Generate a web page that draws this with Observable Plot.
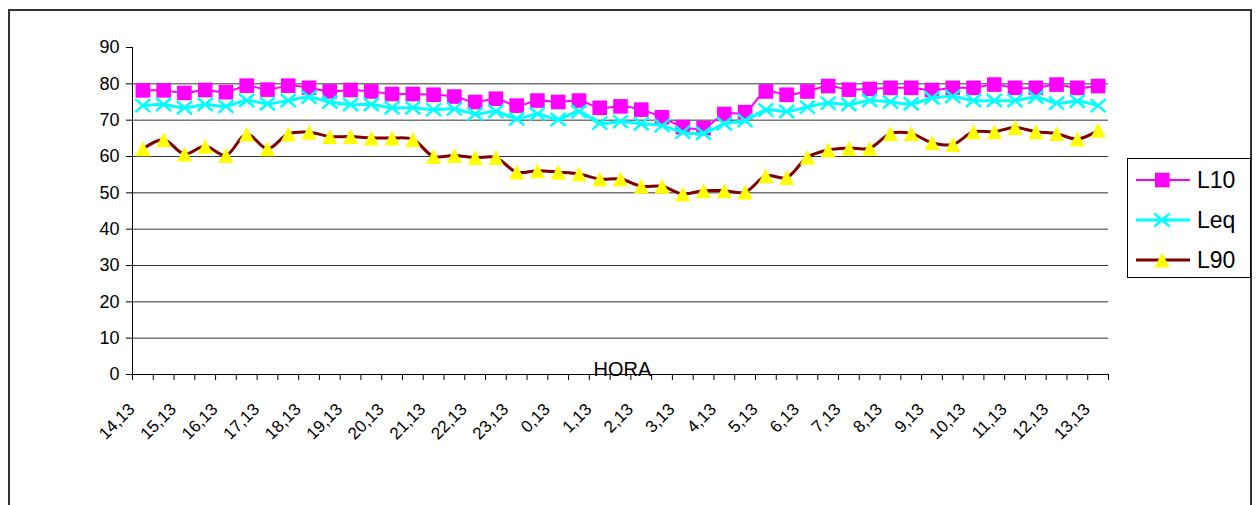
<!DOCTYPE html>
<html>
<head>
<meta charset="utf-8">
<script src="https://cdn.jsdelivr.net/npm/d3@7"></script>
<script src="https://cdn.jsdelivr.net/npm/@observablehq/plot@0.6"></script>
<style>
  html, body { margin: 0; padding: 0; background: #fff; overflow: hidden; }
  #wrap { position: relative; width: 1258px; height: 505px; overflow: hidden; font-family: "Liberation Sans", Arial, sans-serif; }
  #border { position: absolute; left: 8px; top: 9px; width: 1244px; height: 600px; border: 2px solid #333; box-sizing: border-box; }
  #chart { position: absolute; left: 0; top: 0; }
  #legend { position: absolute; left: 1127px; top: 158px; width: 124px; height: 120px; border: 1px solid #000; background: #fff; box-sizing: border-box; }
  .row { position: absolute; left: 0; height: 40px; display: flex; align-items: center; }
  .row svg { display: block; }
  .row span { font-size: 23px; color: #000; margin-left: 5px; }
</style>
</head>
<body>
<div id="wrap">
  <div id="border"></div>
  <div id="chart"></div>
  <div id="legend"></div>
</div>
<script>
// Hour labels (every other half-hour category)
const tickLabels = ["14,13","15,13","16,13","17,13","18,13","19,13","20,13","21,13","22,13","23,13","0,13","1,13",
  "2,13","3,13","4,13","5,13","6,13","7,13","8,13","9,13","10,13","11,13","12,13","13,13"];

const L10 = [78.2,78.2,77.5,78.3,77.7,79.5,78.4,79.5,78.9,77.9,78.3,77.9,77.2,77.2,77.0,76.5,75.0,75.9,74.0,75.4,
  75.0,75.4,73.4,73.8,72.9,70.8,68.1,67.8,71.7,72.2,77.9,77.0,77.9,79.4,78.4,78.6,78.9,78.9,78.3,78.9,
  78.9,79.8,78.9,78.9,79.8,78.9,79.4];
const Leq = [74.0,74.3,73.4,74.3,73.8,75.4,74.5,75.4,76.3,75.0,74.3,74.3,73.4,73.4,72.9,73.1,71.7,72.4,70.4,71.7,
  70.2,72.4,69.2,69.6,69.0,68.5,66.7,66.4,69.0,69.9,72.8,72.4,73.6,74.7,74.3,75.4,75.0,74.5,76.1,76.5,
  75.4,75.4,75.4,76.3,74.7,75.2,74.0];
const L90 = [62.1,64.6,60.7,62.8,60.3,66.2,62.1,66.2,66.7,65.5,65.5,65.1,65.1,64.7,60.0,60.3,59.7,59.7,55.7,56.1,
  55.7,55.2,53.8,53.8,51.8,51.8,49.7,50.6,50.6,50.2,54.7,54.2,59.8,61.8,62.3,62.3,66.3,66.3,63.8,63.3,
  66.8,66.8,68.0,66.8,66.3,64.8,67.2];

const yTicks = [0,10,20,30,40,50,60,70,80,90];
const gridValues = [10,20,30,40,50,60,70,80];
const seriesNames = ["L10","Leq","L90"];
const axisTitle = "HORA";

const rows = L10.map((v, i) => ({i, L10: v, Leq: Leq[i], L90: L90[i]}));
const xDomain = [-0.5, L10.length - 0.5];
const boundaries = d3.range(L10.length + 1).map(k => k - 0.5);
const labelIdx = tickLabels.map((_, k) => k * 2);

const colors = {L10: "#FF00FF", Leq: "#00FFFF", L90: "#800000", tri: "#FFFF00"};

const squareSym = {draw(ctx) { const h = 7.3; ctx.moveTo(-h,-h); ctx.lineTo(h,-h); ctx.lineTo(h,h); ctx.lineTo(-h,h); ctx.closePath(); }};
const timesSym = {draw(ctx) { const w = 7.5, h = 6.5; ctx.moveTo(-w,-h); ctx.lineTo(w,h); ctx.moveTo(-w,h); ctx.lineTo(w,-h); }};
const triSym = {draw(ctx) { const w = 7.5, h = 7.5; ctx.moveTo(0,-h); ctx.lineTo(w,h); ctx.lineTo(-w,h); ctx.closePath(); }};

const chart = Plot.plot({
  width: 1258,
  height: 505,
  marginLeft: 132,
  marginRight: 150,
  marginTop: 47,
  marginBottom: 131,
  style: {fontFamily: "'Liberation Sans', Arial, sans-serif", background: "transparent", color: "#000"},
  x: {type: "linear", domain: xDomain, axis: null},
  y: {domain: [0, 90], axis: null},
  marks: [
    Plot.ruleY(gridValues, {stroke: "#333", strokeWidth: 1}),
    Plot.axisY({ticks: yTicks, tickSize: 6, tickPadding: 7, fontSize: 18, label: null, tickFormat: d => String(d)}),
    Plot.axisX({ticks: boundaries, tickSize: 6, tickFormat: () => "", label: null}),
    Plot.ruleX([xDomain[0]], {stroke: "#000"}),
    Plot.ruleY([0], {stroke: "#000"}),
    Plot.text(labelIdx, {x: d => d, text: (d, k) => tickLabels[k], frameAnchor: "bottom", rotate: -45,
      textAnchor: "end", lineAnchor: "middle", dx: -11, dy: 32, fontSize: 17, fill: "#000"}),
    Plot.text([axisTitle], {frameAnchor: "bottom", lineAnchor: "bottom", fontSize: 20, dy: 1, dx: 2, fill: "#000"}),
    Plot.line(rows, {x: "i", y: "L10", stroke: colors.L10, strokeWidth: 2, curve: "catmull-rom"}),
    Plot.dot(rows, {x: "i", y: "L10", symbol: squareSym, fill: colors.L10, stroke: "none"}),
    Plot.line(rows, {x: "i", y: "Leq", stroke: colors.Leq, strokeWidth: 3, curve: "catmull-rom"}),
    Plot.dot(rows, {x: "i", y: "Leq", symbol: timesSym, fill: "none", stroke: colors.Leq, strokeWidth: 2.5}),
    Plot.line(rows, {x: "i", y: "L90", stroke: colors.L90, strokeWidth: 3, curve: "catmull-rom"}),
    Plot.dot(rows, {x: "i", y: "L90", symbol: triSym, fill: colors.tri, stroke: "none"})
  ]
});
document.getElementById("chart").appendChild(chart);

// Legend
const legend = document.getElementById("legend");
const markerSvg = {
  L10: `<rect x="27" y="12.7" width="14.6" height="14.6" fill="${colors.L10}"/>`,
  Leq: `<path d="M26.5,13.5L41.5,26.5M26.5,26.5L41.5,13.5" stroke="${colors.Leq}" stroke-width="2.5" fill="none"/>`,
  L90: `<path d="M34,12.5L41.5,27.5L26.5,27.5Z" fill="${colors.tri}"/>`
};
const lineColor = {L10: colors.L10, Leq: colors.Leq, L90: colors.L90};
const lineW = {L10: 2, Leq: 3, L90: 3};
seriesNames.forEach((name, k) => {
  const row = document.createElement("div");
  row.className = "row";
  row.style.top = (1 + k * 40) + "px";
  row.innerHTML = `<svg width="64" height="40"><line x1="8" x2="62" y1="20" y2="20" stroke="${lineColor[name]}" stroke-width="${lineW[name]}"/>${markerSvg[name]}</svg><span>${name}</span>`;
  legend.appendChild(row);
});
</script>
</body>
</html>
